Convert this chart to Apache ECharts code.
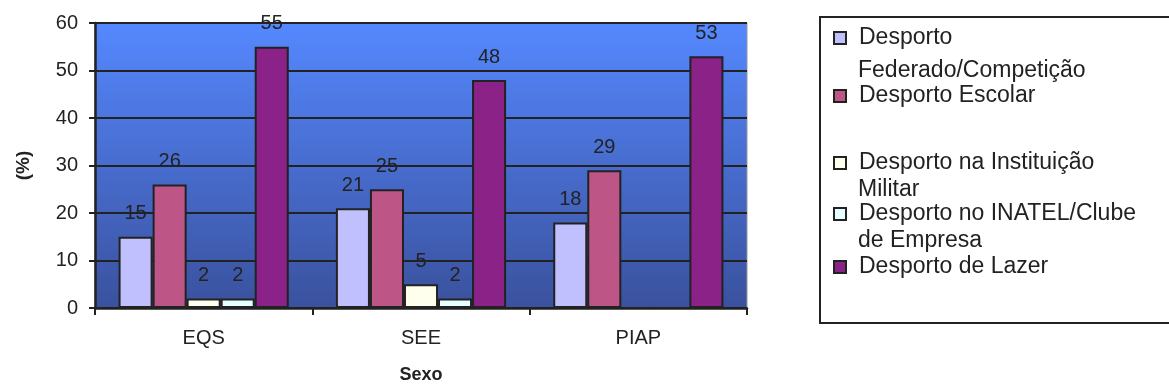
<!DOCTYPE html>
<html>
<head>
<meta charset="utf-8">
<script src="https://cdn.jsdelivr.net/npm/echarts@6/dist/echarts.min.js"></script>
<style>
  html, body { margin: 0; padding: 0; background: #fff; }
  #chart { width: 1169px; height: 390px; }
</style>
</head>
<body>
<div id="chart"></div>
<script>
// Groups on the category axis
const categories = ['EQS', 'SEE', 'PIAP'];

// Share of respondents (%) per type of sport, one array per series
const federado = [15, 21, 18];
const escolar = [26, 25, 29];
const militar = [2, 5, 0];
const inatel = [2, 2, 0];
const lazer = [55, 48, 53];

const yTicks = [0, 10, 20, 30, 40, 50, 60];

// legend lines: first line sits next to the swatch, the rest wrap beneath it
const seriesDefs = [
  { name: 'Desporto Federado/Competição', data: federado, color: '#C0C0FF',
    lines: ['Desporto', 'Federado/Competição'], lineY: [38, 71] },
  { name: 'Desporto Escolar', data: escolar, color: '#BE5587',
    lines: ['Desporto Escolar'], lineY: [96] },
  { name: 'Desporto na Instituição Militar', data: militar, color: '#FFFFEE',
    lines: ['Desporto na Instituição', 'Militar'], lineY: [163, 190] },
  { name: 'Desporto no INATEL/Clube de Empresa', data: inatel, color: '#E6FFFF',
    lines: ['Desporto no INATEL/Clube', 'de Empresa'], lineY: [214, 241] },
  { name: 'Desporto de Lazer', data: lazer, color: '#8B2288',
    lines: ['Desporto de Lazer'], lineY: [267] }
];

const FONT = '"Liberation Sans", Arial, sans-serif';
const INK = '#222222';
const LEGEND_FS = 23;
const LEGEND_LH = 26;
const MARK = 12;
const TEXT_X = 858;

const chart = echarts.init(document.getElementById('chart'), null, { renderer: 'canvas' });

const legends = seriesDefs.map(function (s) {
  return {
    data: [s.name],
    orient: 'vertical',
    left: 833,
    top: s.lineY[0] - LEGEND_LH / 2,
    padding: 0,
    itemWidth: MARK,
    itemHeight: MARK,
    icon: 'rect',
    selectedMode: false,
    formatter: function () { return s.lines[0]; },
    textStyle: {
      fontFamily: FONT,
      fontSize: LEGEND_FS,
      color: INK,
      lineHeight: LEGEND_LH,
      padding: [0, 0, 0, 8]
    }
  };
});

const graphics = [{
  type: 'rect',
  shape: { x: 820, y: 17, width: 360, height: 306 },
  style: { fill: 'none', stroke: INK, lineWidth: 2 },
  silent: true,
  z: 10
}];
seriesDefs.forEach(function (s) {
  for (let i = 1; i < s.lines.length; i++) {
    graphics.push({
      type: 'text',
      x: TEXT_X,
      y: s.lineY[i],
      silent: true,
      style: {
        text: s.lines[i],
        fontFamily: FONT,
        fontSize: LEGEND_FS,
        fill: INK,
        align: 'left',
        verticalAlign: 'middle'
      }
    });
  }
});

const option = {
  animation: false,
  backgroundColor: '#ffffff',
  textStyle: { fontFamily: FONT },
  grid: {
    left: 95,
    right: 422,
    top: 23,
    bottom: 82,
    containLabel: false,
    outerBoundsMode: 'none',
    show: true,
    borderColor: '#999999',
    borderWidth: 1,
    backgroundColor: new echarts.graphic.LinearGradient(0, 0, 0, 1, [
      { offset: 0, color: '#5588FF' },
      { offset: 1, color: '#3A519D' }
    ])
  },
  legend: legends,
  graphic: graphics,
  xAxis: {
    type: 'category',
    data: categories,
    name: 'Sexo',
    nameLocation: 'middle',
    nameGap: 58,
    nameTextStyle: { fontFamily: FONT, fontSize: 18, fontWeight: 'bold', color: INK },
    axisLine: { lineStyle: { color: INK, width: 2.5 } },
    axisTick: { show: true, length: 7, lineStyle: { color: INK, width: 2 } },
    axisLabel: { fontFamily: FONT, fontSize: 20, color: INK, margin: 20 },
    splitLine: { show: false }
  },
  yAxis: {
    type: 'value',
    min: yTicks[0],
    max: yTicks[yTicks.length - 1],
    interval: 10,
    name: '(%)',
    nameLocation: 'middle',
    nameRotate: 90,
    nameGap: 62,
    nameTextStyle: { fontFamily: FONT, fontSize: 19, fontWeight: 'bold', color: INK },
    axisLine: { show: true, lineStyle: { color: INK, width: 2.5 } },
    axisTick: { show: true, length: 6, lineStyle: { color: INK, width: 2 } },
    axisLabel: { fontFamily: FONT, fontSize: 20, color: INK, margin: 17 },
    splitLine: { show: true, lineStyle: { color: INK, width: 2 } }
  },
  series: seriesDefs.map(function (s) {
    return {
      name: s.name,
      type: 'bar',
      data: s.data,
      barGap: '0%',
      barCategoryGap: '21.7%',
      itemStyle: { color: s.color, borderColor: INK, borderWidth: 2 },
      label: {
        show: true,
        position: 'top',
        distance: 13,
        fontFamily: FONT,
        fontSize: 20,
        color: INK,
        formatter: function (p) { return p.value === 0 ? '' : String(p.value); }
      }
    };
  })
};

chart.setOption(option);
</script>
</body>
</html>
